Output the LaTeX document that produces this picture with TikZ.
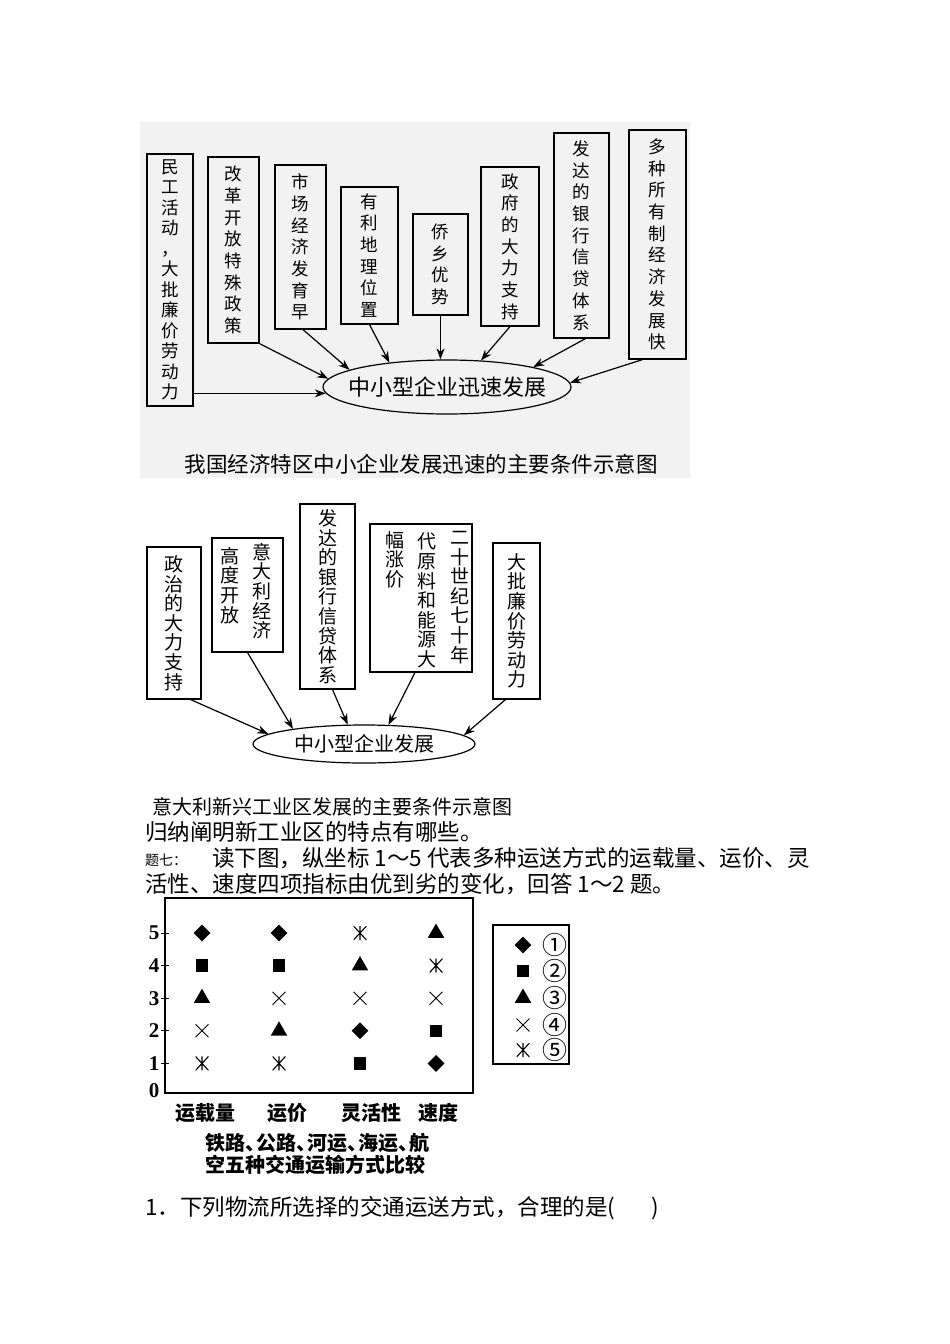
\documentclass[tikz,border=0pt]{standalone}
\usepackage{fontspec}
\setmainfont{Liberation Serif}
\newfontfamily\cjk{Noto Sans CJK SC}
\usetikzlibrary{shapes.geometric,shapes.misc,arrows.meta,positioning}
\newcommand{\dun}{、\kern-0.45em}

\begin{document}
\begin{tikzpicture}[x=1pt, y=-1pt,
    cond/.style={draw, line width=1.2pt, inner sep=0pt, align=center, font=\cjk\fontsize{17.5}{21.7}\selectfont},
    cond2/.style={draw, line width=1.1pt, inner sep=0pt, align=center, font=\cjk\fontsize{19}{19.6}\selectfont},
    column/.style={inner sep=0pt, align=center, anchor=north, font=\cjk\fontsize{19}{19.6}\selectfont},
    goal/.style={draw, ellipse, line width=1.2pt, inner sep=0pt},
    arrow/.style={-{Stealth[length=11pt,width=8pt]}, line width=1.2pt},
    txt/.style={inner sep=0pt, anchor=west, font=\cjk\fontsize{22.5}{26}\selectfont},
    cat/.style={inner sep=0pt, font=\cjk\bfseries\fontsize{20}{22}\selectfont},
    ylab/.style={inner sep=0pt, font=\bfseries\fontsize{21}{21}\selectfont},
    mdia/.style={diamond, fill=black, inner sep=0pt, minimum size=17pt},
    msq/.style={rectangle, fill=black, inner sep=0pt, minimum size=12.5pt},
    mtri/.style={regular polygon, regular polygon sides=3, fill=black, inner sep=0pt, minimum size=19pt},
    mcross/.style={cross out, draw, line width=0.9pt, inner sep=0pt, minimum size=12pt},
    mast/.style={rectangle, inner sep=0pt, minimum width=13pt, minimum height=14pt,
        path picture={\draw[line width=1.1pt] (path picture bounding box.north) -- (path picture bounding box.south)
            (path picture bounding box.north west) -- (path picture bounding box.south east)
            (path picture bounding box.north east) -- (path picture bounding box.south west);}}
]
\useasboundingbox (0,0) rectangle (950,1344);

% first diagram
\fill[black!5] (140,122) rectangle (690,478);

\node[cond, font=\cjk\fontsize{17.5}{20.5}\selectfont, minimum width=46pt, minimum height=252pt] (labor) at (170,280) {民\\工\\活\\动\\，\\大\\批\\廉\\价\\劳\\动\\力};
\node[cond, minimum width=51pt, minimum height=186pt] (reform) at (233.5,250) {改\\革\\开\\放\\特\\殊\\政\\策};
\node[cond, minimum width=51pt, minimum height=164pt] (market) at (300.5,247) {市\\场\\经\\济\\发\\育\\早};
\node[cond, minimum width=57pt, minimum height=137pt] (location) at (369.5,255.5) {有\\利\\地\\理\\位\\置};
\node[cond, minimum width=55pt, minimum height=101pt] (overseas) at (440.5,264.5) {侨\\乡\\优\\势};
\node[cond, minimum width=58pt, minimum height=159pt] (govt) at (510,246.5) {政\\府\\的\\大\\力\\支\\持};
\node[cond, minimum width=55pt, minimum height=205pt] (bank) at (581.5,235.5) {发\\达\\的\\银\\行\\信\\贷\\体\\系};
\node[cond, minimum width=57pt, minimum height=229pt] (ownership) at (657.5,244.5) {多\\种\\所\\有\\制\\经\\济\\发\\展\\快};

\node[goal, minimum width=248pt, minimum height=54pt] (sme) at (447,387) {};
\node[inner sep=0pt, font=\cjk\fontsize{22}{22}\selectfont] (smetext) at (sme.center) {中小型企业迅速发展};

\draw[arrow] (labor.east |- sme.183) -- (sme.183);
\draw[arrow] (reform.south east) -- (sme.176);
\draw[arrow] ([xshift=2.5pt]market.south) -- (sme.170);
\draw[arrow] (location.south) -- (sme.157);
\draw[arrow] (overseas.south) -- (overseas.south |- sme.north);
\draw[arrow] (govt.south) -- (sme.38);
\draw[arrow] ([xshift=4pt]bank.south) -- (sme.13);
\draw[arrow] ([xshift=-15pt]ownership.south) -- (sme.2);

\node[inner sep=0pt, font=\cjk\fontsize{21.5}{22}\selectfont] (cap1) at (421,464) {我国经济特区中小企业发展迅速的主要条件示意图};

% second diagram
\node[cond2, minimum width=54pt, minimum height=152pt] (politics) at (174,623) {政\\治\\的\\大\\力\\支\\持};
\node[cond2, minimum width=71pt, minimum height=114pt] (open) at (247.5,595) {};
\node[column] (openR) at (262,543) {意\\大\\利\\经\\济};
\node[column] (openL) at (230,547) {高\\度\\开\\放};
\node[cond2, minimum width=55pt, minimum height=185pt] (credit) at (327.5,596.5) {发\\达\\的\\银\\行\\信\\贷\\体\\系};
\node[cond2, minimum width=102pt, minimum height=148pt] (energy) at (421,598) {};
\node[column] (energyR) at (460,531) {二\\十\\世\\纪\\七\\十\\年};
\node[column] (energyM) at (427,533) {代\\原\\料\\和\\能\\源\\大};
\node[column] (energyL) at (395,531) {幅\\涨\\价};
\node[cond2, minimum width=47pt, minimum height=156pt] (cheap) at (516.5,621) {大\\批\\廉\\价\\劳\\动\\力};

\node[goal, minimum width=222pt, minimum height=38pt] (sme2) at (364,744) {};
\node[inner sep=0pt, font=\cjk\fontsize{20}{20}\selectfont] (sme2text) at (sme2.center) {中小型企业发展};

\draw[arrow] ([xshift=-11pt]politics.south east) -- (sme2.174);
\draw[arrow] (open.south) -- (sme2.168);
\draw[arrow] ([xshift=5pt]credit.south) -- (sme2.130);
\draw[arrow] ([xshift=-6pt]energy.south) -- (sme2.38);
\draw[arrow] ([xshift=-11pt]cheap.south) -- (sme2.5);

\node[inner sep=0pt, anchor=west, font=\cjk\fontsize{20}{20}\selectfont] (cap2) at (152,807) {意大利新兴工业区发展的主要条件示意图};

% question text
\node[txt] (line1) at (145,832) {归纳阐明新工业区的特点有哪些。};
\node[inner sep=0pt, anchor=west, font=\cjk\fontsize{14}{14}\selectfont] (qlabel) at (145,860) {题七：};
\node[txt] (line2) at (212,858) {读下图，纵坐标 1～5 代表多种运送方式的运载量、运价、灵};
\node[txt] (line3) at (145,884) {活性、速度四项指标由优到劣的变化，回答 1～2 题。};

% chart
\node[draw, line width=1.2pt, inner sep=0pt, minimum width=308pt, minimum height=195pt] (plot) at (319,995.5) {};
\foreach \v in {1,...,5} {
    \draw[line width=1pt] (161,{1096-32.6*\v}) -- (169,{1096-32.6*\v});
    \node[ylab] (y\v) at (154,{1096-32.6*\v}) {\v};
}
\node[ylab] (y0) at (154,1091) {0};

\foreach \x/\v/\m in {202/5/mdia, 202/4/msq, 202/3/mtri, 202/2/mcross, 202/1/mast,
                      279/5/mdia, 279/4/msq, 279/3/mcross, 279/2/mtri, 279/1/mast,
                      360/5/mast, 360/4/mtri, 360/3/mcross, 360/2/mdia, 360/1/msq,
                      436/5/mtri, 436/4/mast, 436/3/mcross, 436/2/msq, 436/1/mdia}
    \node[\m] (mk-\x-\v) at (\x,{1096-32.6*\v}) {};

\node[cat] (volume) at (205,1113) {运载量};
\node[cat] (price) at (287,1113) {运价};
\node[cat] (flex) at (371,1113) {灵活性};
\node[cat] (speed) at (438,1113) {速度};
\node[cat, anchor=west, align=left] (chartcap) at (205,1154) {铁路\dun 公路\dun 河运\dun 海运\dun 航\\空五种交通运输方式比较};

\node[draw, line width=1.1pt, inner sep=0pt, minimum width=76pt, minimum height=139pt] (legend) at (531,994.5) {};
\foreach \m/\t/\y in {mdia/①/945, msq/②/971, mtri/③/998, mcross/④/1025, mast/⑤/1050} {
    \node[\m] (leg-\y) at (523,\y) {};
    \node[inner sep=0pt, font=\cjk\fontsize{25}{25}\selectfont] (legt-\y) at (555,\y) {\t};
}

\node[txt] (q1) at (145,1208) {1．下列物流所选择的交通运送方式，合理的是(\hspace{36pt})};

\end{tikzpicture}
\end{document}
